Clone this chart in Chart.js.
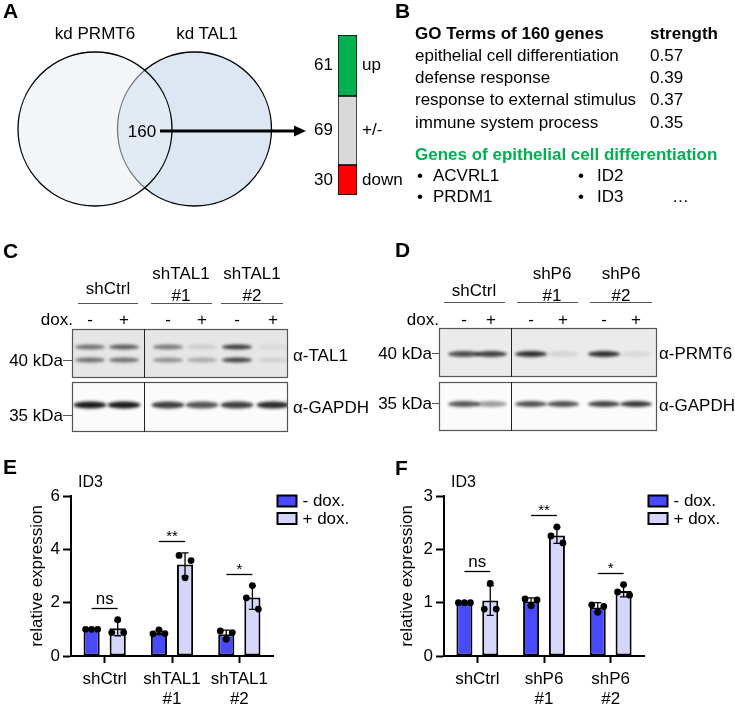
<!DOCTYPE html>
<html>
<head>
<meta charset="utf-8">
<script src="https://cdn.jsdelivr.net/npm/chart.js@4.4.1/dist/chart.umd.min.js"></script>
<style>
  body { margin: 0; background: #fff; }
  #fig { position: relative; width: 735px; height: 704px; overflow: hidden; background: #fff;
         font-family: "Liberation Sans", Arial, sans-serif; color: #000; }
  #fig canvas { position: absolute; }
  .t { position: absolute; font-size: 17px; line-height: 1; white-space: nowrap; }
  .b { font-weight: bold; }
  .L { font-weight: bold; font-size: 21px; }
</style>
</head>
<body>
<div id="fig">
  <canvas id="bg" style="left:0;top:0;width:735px;height:704px"></canvas>
  <canvas id="dirChart" width="120" height="180" style="left:290px;top:25px;width:120px;height:180px"></canvas>
  <canvas id="chartE" width="365" height="234" style="left:0;top:470px;width:365px;height:234px"></canvas>
  <canvas id="chartF" width="365" height="234" style="left:370px;top:470px;width:365px;height:234px"></canvas>
</div>
<script>
// ---- data ----
// A: overlap and its split
const vennSets = ['kd PRMT6', 'kd TAL1'];
const overlapCount = 160;
const dirLabels = ['up', '+/-', 'down'];
const dirCounts = [61, 69, 30];
const dirColors = ['#00b050', '#d9d9d9', '#ff0000'];

// B: GO terms
const goTerms = ['epithelial cell differentiation', 'defense response', 'response to external stimulus', 'immune system process'];
const goStrength = ['0.57', '0.39', '0.37', '0.35'];
const epiGenes = ['ACVRL1', 'PRDM1', 'ID2', 'ID3'];

// C / D: band intensities per lane (-,+ for each construct)
const tal1Upper = [0.55, 0.65, 0.5, 0.12, 0.8, 0.06];
const tal1Lower = [0.55, 0.55, 0.4, 0.28, 0.75, 0.1];
const gapdhC = [0.95, 0.95, 0.8, 0.7, 0.8, 0.88];
const prmt6D = [0.72, 0.78, 0.85, 0.1, 0.85, 0.08];
const gapdhD = [0.7, 0.4, 0.72, 0.72, 0.78, 0.82];

// E: ID3, shTAL1
const groupsE = ['shCtrl', ['shTAL1', '#1'], ['shTAL1', '#2']];
const minusMeanE = [1.00, 0.88, 0.82];
const minusSdE = [0.01, 0.08, 0.15];
const minusPtsE = [[1.00, 1.00, 1.00], [0.83, 0.98, 0.84], [0.94, 0.63, 0.88]];
const plusMeanE = [1.04, 3.43, 2.19];
const plusSdE = [0.28, 0.44, 0.44];
const plusPtsE = [[0.88, 1.36, 0.88], [3.77, 2.93, 3.58], [2.18, 2.64, 1.76]];
const sigE = ['ns', '**', '*'];
const yTicksE = [0, 2, 4, 6];

// F: ID3, shP6
const groupsF = ['shCtrl', ['shP6', '#1'], ['shP6', '#2']];
const minusMeanF = [1.00, 1.02, 0.91];
const minusSdF = [0.01, 0.07, 0.09];
const minusPtsF = [[1.00, 1.00, 1.00], [1.07, 0.94, 1.05], [0.96, 0.82, 0.93]];
const plusMeanF = [1.04, 2.26, 1.22];
const plusSdF = [0.28, 0.15, 0.11];
const plusPtsF = [[0.88, 1.36, 0.88], [2.25, 2.42, 2.12], [1.2, 1.34, 1.14]];
const sigF = ['ns', '**', '*'];
const yTicksF = [0, 1, 2, 3];

Chart.defaults.font.family = '"Liberation Sans", Arial, sans-serif';
Chart.defaults.font.size = 17;
Chart.defaults.color = '#000';

// ---- text ----
const fig = document.getElementById('fig');
function put(text, x, y, align, cls, style) {
  const d = document.createElement('div');
  d.className = 't ' + (cls || '');
  d.textContent = text;
  d.style.left = x + 'px';
  d.style.top = y + 'px';
  const tx = align === 'c' ? '-50%' : align === 'r' ? '-100%' : '0';
  d.style.transform = 'translate(' + tx + ', -50%)';
  if (style) Object.assign(d.style, style);
  fig.appendChild(d);
}

put('A', 3, 10, 'l', 'L');
put(vennSets[0], 95, 33, 'c');
put(vennSets[1], 207, 33, 'c');
put(String(overlapCount), 142, 131, 'c');

put('B', 395, 10, 'l', 'L');
put('GO Terms of ' + overlapCount + ' genes', 415, 33, 'l', 'b');
put('strength', 650, 33, 'l', 'b');
const goY = [55, 77, 99, 122];
goTerms.forEach((t, i) => {
  put(t, 415, goY[i], 'l');
  put(goStrength[i], 650, goY[i], 'l');
});
put('Genes of epithelial cell differentiation', 415, 154, 'l', 'b', {color: '#00b050'});
epiGenes.forEach((t, i) => {
  const bx = i < 2 ? 417 : 578, tx = i < 2 ? 433 : 597, y = i % 2 ? 196 : 175;
  put('\u2022', bx, y, 'l');
  put(t, tx, y, 'l');
});
put('\u2026', 672, 196, 'l');

// C labels
const lanesC = [90, 124, 168, 202, 237, 273];
put('C', 3, 250, 'l', 'L');
put('shCtrl', 108, 288, 'c');
put('shTAL1', 181, 273, 'c'); put('#1', 181, 295, 'c');
put('shTAL1', 252, 273, 'c'); put('#2', 252, 295, 'c');
put('dox.', 73, 319, 'r');
lanesC.forEach((x, i) => put(i % 2 ? '+' : '-', x, 319, 'c'));
put('40 kDa', 63, 360, 'r');
put('35 kDa', 63, 415, 'r');
put('\u03b1-TAL1', 293, 355, 'l');
put('\u03b1-GAPDH', 293, 407, 'l');

// D labels
const lanesD = [464, 491, 531, 563, 604, 636];
put('D', 395, 249, 'l', 'L');
put('shCtrl', 474, 290, 'c');
put('shP6', 552, 273, 'c'); put('#1', 552, 295, 'c');
put('shP6', 621, 273, 'c'); put('#2', 621, 295, 'c');
put('dox.', 439, 319, 'r');
lanesD.forEach((x, i) => put(i % 2 ? '+' : '-', x, 319, 'c'));
put('40 kDa', 432, 353, 'r');
put('35 kDa', 432, 403, 'r');
put('\u03b1-PRMT6', 659, 353, 'l');
put('\u03b1-GAPDH', 659, 405, 'l');

put('E', 3, 466, 'l', 'L');
put('F', 395, 467, 'l', 'L');

// ---- background drawing: venn, arrow, blots ----
const bg = document.getElementById('bg');
const dpr = window.devicePixelRatio || 1;
bg.width = 735 * dpr; bg.height = 704 * dpr;
const g = bg.getContext('2d');
g.scale(dpr, dpr);

function disc(cx, cy, r, fill, alpha) {
  g.beginPath();
  g.arc(cx, cy, r, 0, Math.PI * 2);
  g.globalAlpha = alpha;
  g.fillStyle = fill;
  g.fill();
  g.globalAlpha = 1;
  g.lineWidth = 1.3;
  g.strokeStyle = '#000';
  g.stroke();
}
disc(194.5, 129, 77, '#dce7f3', 1);
disc(95, 129, 77, '#e7edf3', 0.5);

// arrow
g.strokeStyle = '#000'; g.fillStyle = '#000';
g.lineWidth = 3;
g.beginPath(); g.moveTo(160, 131); g.lineTo(296, 131); g.stroke();
g.beginPath(); g.moveTo(306, 131); g.lineTo(294, 125.5); g.lineTo(294, 136.5); g.closePath(); g.fill();

function blot(x0, y0, x1, y1, divX, bgc, lanes, rows) {
  g.save();
  g.fillStyle = bgc;
  g.fillRect(x0, y0, x1 - x0, y1 - y0);
  g.beginPath(); g.rect(x0, y0, x1 - x0, y1 - y0); g.clip();
  g.filter = 'blur(1.6px)';
  rows.forEach(r => {
    lanes.forEach((lx, i) => {
      g.fillStyle = 'rgba(15,15,15,' + r.vals[i] + ')';
      g.beginPath();
      g.ellipse(lx, r.y, r.w / 2, r.h / 2, 0, 0, Math.PI * 2);
      g.fill();
    });
  });
  g.restore();
  g.lineWidth = 1.2; g.strokeStyle = '#555';
  g.strokeRect(x0 + 0.5, y0 + 0.5, x1 - x0 - 1, y1 - y0 - 1);
  g.strokeStyle = '#222'; g.lineWidth = 1;
  g.beginPath(); g.moveTo(divX + 0.5, y0); g.lineTo(divX + 0.5, y1); g.stroke();
}
blot(72, 329, 288, 378, 144, '#e6e6e6', lanesC, [
  {y: 347, h: 5, w: 30, vals: tal1Upper},
  {y: 360, h: 5, w: 30, vals: tal1Lower}
]);
blot(72, 382, 288, 432, 144, '#fbfbfb', lanesC, [{y: 405, h: 7, w: 33, vals: gapdhC}]);
blot(439, 328, 657, 377, 511, '#ebebeb', lanesD, [{y: 354, h: 6, w: 32, vals: prmt6D}]);
blot(439, 382, 657, 431, 511, '#fbfbfb', lanesD, [{y: 404, h: 6, w: 32, vals: gapdhD}]);

// group lines and kDa ticks
g.strokeStyle = '#555'; g.lineWidth = 1;
[[78, 138], [151, 212], [221, 283]].forEach(([a, b]) => { g.beginPath(); g.moveTo(a, 303.5); g.lineTo(b, 303.5); g.stroke(); });
[[444, 505], [517, 578], [590, 652]].forEach(([a, b]) => { g.beginPath(); g.moveTo(a, 302.5); g.lineTo(b, 302.5); g.stroke(); });
[[63, 72, 360], [63, 72, 415], [432, 439, 353], [432, 439, 403]].forEach(([a, b, y]) => {
  g.beginPath(); g.moveTo(a, y + 0.5); g.lineTo(b, y + 0.5); g.stroke();
});

// ---- A: direction split as a stacked bar ----
const dirPlugin = {
  id: 'dirLabels',
  afterDatasetsDraw(chart) {
    const {ctx, chartArea} = chart;
    ctx.save();
    ctx.font = '17px "Liberation Sans", Arial, sans-serif';
    ctx.fillStyle = '#000';
    ctx.textBaseline = 'middle';
    chart.data.datasets.forEach((ds, di) => {
      const el = chart.getDatasetMeta(di).data[0];
      const yc = (el.y + el.base) / 2;
      ctx.textAlign = 'right';
      ctx.fillText(String(ds.data[0]), chartArea.left - 5, yc);
      ctx.textAlign = 'left';
      ctx.fillText(ds.label, chartArea.right + 5, yc);
    });
    ctx.restore();
  }
};

new Chart(document.getElementById('dirChart'), {
  type: 'bar',
  data: {
    labels: ['160'],
    datasets: dirLabels.map((l, i) => ({
      label: l, data: [dirCounts[i]], backgroundColor: dirColors[i],
      borderColor: '#000', borderWidth: 1, borderSkipped: false,
      barPercentage: 1, categoryPercentage: 1
    })).reverse()
  },
  options: {
    responsive: false, animation: false,
    layout: {padding: {left: 48, right: 53, top: 10, bottom: 10}},
    plugins: {legend: {display: false}, tooltip: {enabled: false}},
    scales: {
      x: {display: false, stacked: true},
      y: {display: false, stacked: true, min: 0, max: dirCounts.reduce((a, b) => a + b, 0)}
    }
  },
  plugins: [dirPlugin]
});

// ---- E / F bar charts ----
const extras = {
  id: 'extras',
  afterDatasetsDraw(chart, args, opts) {
    const {ctx, chartArea, scales: {y}} = chart;
    const sets = chart.data.datasets;
    ctx.save();
    sets.forEach((ds, di) => {
      chart.getDatasetMeta(di).data.forEach((bar, i) => {
        const m = ds.data[i], s = ds.sd[i];
        const yt = y.getPixelForValue(m + s), yb = y.getPixelForValue(m - s);
        ctx.strokeStyle = '#000';
        ctx.lineWidth = 1.3;
        ctx.beginPath();
        ctx.moveTo(bar.x, yt); ctx.lineTo(bar.x, yb);
        ctx.moveTo(bar.x - 3.5, yt); ctx.lineTo(bar.x + 3.5, yt);
        ctx.moveTo(bar.x - 3.5, yb); ctx.lineTo(bar.x + 3.5, yb);
        ctx.stroke();
        ctx.fillStyle = '#000';
        ds.pts[i].forEach((v, k) => {
          ctx.beginPath();
          ctx.arc(bar.x + (k - 1) * 6, y.getPixelForValue(v), 3.4, 0, Math.PI * 2);
          ctx.fill();
        });
      });
    });

    // significance bars
    const m0 = chart.getDatasetMeta(0), m1 = chart.getDatasetMeta(1);
    opts.sig.forEach((lab, i) => {
      let top = 0;
      sets.forEach(ds => {
        top = Math.max(top, ds.data[i] + ds.sd[i], ...ds.pts[i]);
      });
      const yl = Math.round(y.getPixelForValue(top) - 12) + 0.5;
      const a = m0.data[i].x, b = m1.data[i].x;
      ctx.lineWidth = 1.3;
      ctx.beginPath(); ctx.moveTo(a, yl); ctx.lineTo(b, yl); ctx.stroke();
      ctx.textAlign = 'center';
      ctx.textBaseline = 'alphabetic';
      ctx.font = (lab === 'ns' ? 17 : 15) + 'px "Liberation Sans", Arial, sans-serif';
      ctx.fillText(lab, (a + b) / 2, yl - (lab === 'ns' ? 5 : 1));
    });

    // legend
    ctx.font = '17px "Liberation Sans", Arial, sans-serif';
    ctx.textAlign = 'left';
    ctx.textBaseline = 'middle';
    sets.forEach((ds, di) => {
      const bx = chartArea.right + 4.5, by = chartArea.top - 0.5 + di * 17.5;
      ctx.fillStyle = ds.backgroundColor;
      ctx.fillRect(bx, by, 19, 11);
      ctx.lineWidth = 2;
      ctx.strokeStyle = '#000';
      ctx.strokeRect(bx, by, 19, 11);
      ctx.fillStyle = '#000';
      ctx.fillText(ds.label, bx + 25, by + 6);
    });

    // gene title
    ctx.font = '16px "Liberation Sans", Arial, sans-serif';
    ctx.fillText(opts.title, chartArea.left + 7, chartArea.top - 13);
    ctx.restore();
  }
};

function barPanel(id, groups, mMean, mSd, mPts, pMean, pSd, pPts, sig, yTicks, yW, padR) {
  return new Chart(document.getElementById(id), {
    type: 'bar',
    data: {
      labels: groups,
      datasets: [
        {label: '- dox.', data: mMean, sd: mSd, pts: mPts, backgroundColor: '#4949fd'},
        {label: '+ dox.', data: pMean, sd: pSd, pts: pPts, backgroundColor: '#d6d6fd'}
      ]
    },
    options: {
      responsive: false, animation: false,
      layout: {padding: {top: 26, right: padR, bottom: 0, left: 0}},
      datasets: {bar: {borderColor: '#000', borderWidth: 2, borderSkipped: false,
                       categoryPercentage: 0.775, barPercentage: 0.62}},
      plugins: {legend: {display: false}, tooltip: {enabled: false}, extras: {sig: sig, title: 'ID3'}},
      scales: {
        x: {
          grid: {drawOnChartArea: false, offset: false, tickLength: 7, tickWidth: 2, tickColor: '#000'},
          border: {color: '#000', width: 2},
          ticks: {color: '#000', padding: 6, maxRotation: 0, autoSkip: false, font: {size: 17}},
          afterFit: s => { s.height = 48; }
        },
        y: {
          min: yTicks[0], max: yTicks[yTicks.length - 1],
          afterBuildTicks: s => { s.ticks = yTicks.map(v => ({value: v})); },
          grid: {drawOnChartArea: false, tickLength: 8, tickWidth: 2, tickColor: '#000'},
          border: {color: '#000', width: 2},
          ticks: {color: '#000', padding: 3, font: {size: 17}},
          title: {display: true, text: 'relative expression', color: '#000',
                  font: {size: 17}, padding: {top: 27, bottom: 0}},
          afterFit: s => { s.width = yW; }
        }
      }
    },
    plugins: [extras]
  });
}

barPanel('chartE', groupsE, minusMeanE, minusSdE, minusPtsE, plusMeanE, plusSdE, plusPtsE, sigE, yTicksE, 71, 92);
barPanel('chartF', groupsF, minusMeanF, minusSdF, minusPtsF, plusMeanF, plusSdF, plusPtsF, sigF, yTicksF, 74, 91);
</script>
</body>
</html>
